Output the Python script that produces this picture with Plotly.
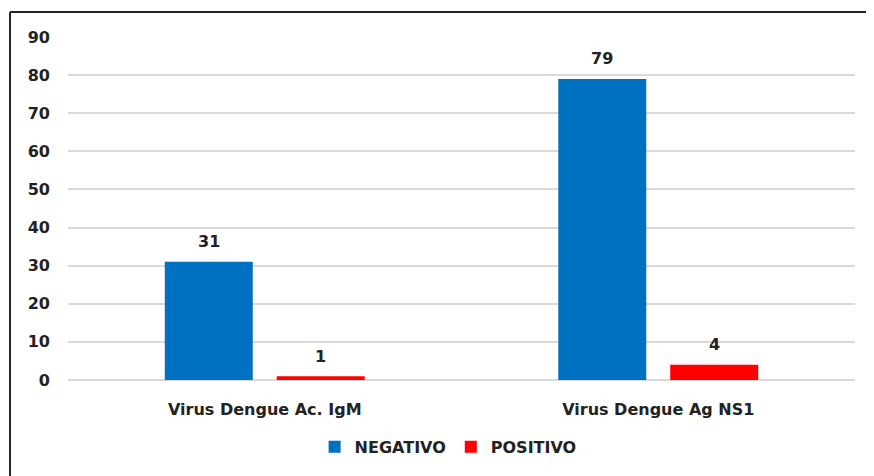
import plotly.graph_objects as go

# ── Data ──────────────────────────────────────────────────────────────────────
categories = ["Virus Dengue Ac. IgM", "Virus Dengue Ag NS1"]
negativo = [31, 79]
positivo = [1, 4]
y_ticks = [0, 10, 20, 30, 40, 50, 60, 70, 80, 90]

BLUE = "#0070C0"
RED = "#FF0000"
INK = "#222222"
FONT = "DejaVu Sans"

fig = go.Figure()
fig.add_trace(go.Bar(x=categories, y=negativo, name="NEGATIVO",
                     marker=dict(color=BLUE, line=dict(width=0))))
fig.add_trace(go.Bar(x=categories, y=positivo, name="POSITIVO",
                     marker=dict(color=RED, line=dict(width=0))))

# value labels above bars (offset to each bar of the group)
for vals, dx in ((negativo, -56), (positivo, 56)):
    for cat, v in zip(categories, vals):
        fig.add_annotation(x=cat, y=v, text=str(v), showarrow=False,
                           xshift=dx, yshift=20, yanchor="middle",
                           font=dict(family=FONT, size=16, color=INK, weight="bold"))

# outer frame: only the left and top edges are in view
frame = dict(type="line", xref="paper", yref="paper",
             line=dict(color="#262626", width=2), layer="above")
fig.add_shape(x0=-0.0737, x1=-0.0737, y0=-0.4, y1=1.0729, **frame)
fig.add_shape(x0=-0.0737, x1=1.03, y0=1.0729, y1=1.0729, **frame)

# page body has an 8px margin, so the figure is sized to fit the window
fig.update_layout(
    width=866, height=468,
    paper_bgcolor="white", plot_bgcolor="white",
    font=dict(family=FONT, size=16, color=INK, weight="bold"),
    margin=dict(l=60, r=19, t=29, b=96, autoexpand=False),
    barmode="group", bargap=0.431, bargroupgap=0.214,
    showlegend=True,
    legend=dict(orientation="h", x=0.483, xanchor="center", y=-0.195,
                yanchor="middle", font=dict(size=16), itemwidth=30,
                traceorder="normal"),
    xaxis=dict(showgrid=False, showline=False, ticks="", ticklabelstandoff=18,
               tickfont=dict(size=16)),
    yaxis=dict(range=[0, 90], tickvals=y_ticks, showgrid=True,
               gridcolor="#d9d9d9", gridwidth=1.5, zeroline=True,
               zerolinecolor="#d9d9d9", zerolinewidth=1.5, showline=False,
               ticks="", ticklabelstandoff=17, tickfont=dict(size=16)),
)

fig.write_html("out.html")
